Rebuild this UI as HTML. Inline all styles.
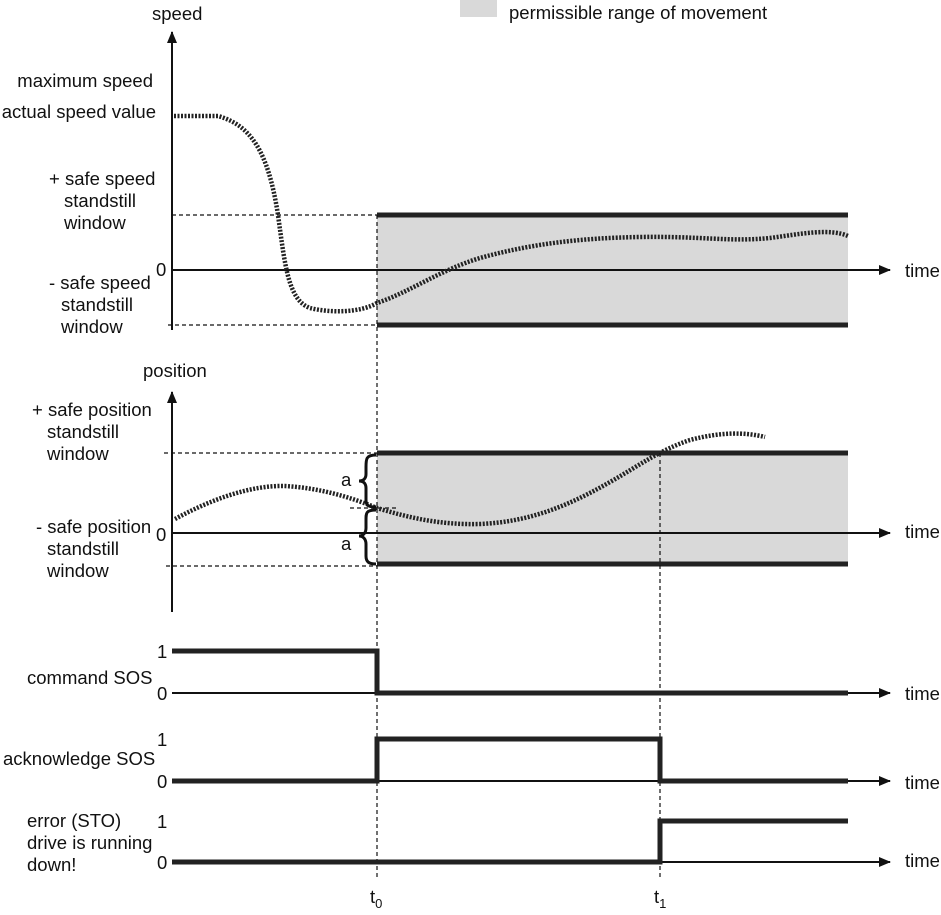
<!DOCTYPE html>
<html><head><meta charset="utf-8"><style>
html,body{margin:0;padding:0;background:#fff;}
svg{display:block;}
text{font-family:"Liberation Sans",Arial,sans-serif;font-size:18.5px;fill:#111;}
</style></head><body>
<svg width="941" height="915" viewBox="0 0 941 915" xmlns="http://www.w3.org/2000/svg">
<defs>
<marker id="ah" markerWidth="12" markerHeight="10" refX="11" refY="5" orient="auto" markerUnits="userSpaceOnUse">
<path d="M0,0 L12,5 L0,10 z" fill="#111"/>
</marker>
</defs>
<!-- legend -->
<rect x="460" y="0" width="37" height="17" fill="#d9d9d9"/>
<text x="509" y="19">permissible range of movement</text>

<!-- SPEED -->
<rect x="377" y="215" width="471" height="110" fill="#d9d9d9"/>
<line x1="377" y1="215" x2="848" y2="215" stroke="#222" stroke-width="5"/>
<line x1="377" y1="325" x2="848" y2="325" stroke="#222" stroke-width="5"/>
<line x1="172" y1="215" x2="377" y2="215" stroke="#111" stroke-width="1.2" stroke-dasharray="4,3"/>
<line x1="168" y1="325" x2="377" y2="325" stroke="#111" stroke-width="1.2" stroke-dasharray="4,3"/>
<line x1="172" y1="330" x2="172" y2="32" stroke="#111" stroke-width="2" marker-end="url(#ah)"/>
<line x1="172" y1="270" x2="890" y2="270" stroke="#111" stroke-width="2" marker-end="url(#ah)"/>
<path d="M174,116 L218,116 C250,125 268,150 278,215 C285,265 288,300 310,308 C330,313 360,313 377,303 C410,292 440,270 480,258 C530,244 580,238 640,237 C700,236 730,242 770,238 C800,234 830,228 848,236" fill="none" stroke="#222" stroke-width="4.5" stroke-dasharray="2,1.5"/>
<text x="152" y="20">speed</text>
<text x="153" y="87" text-anchor="end">maximum speed</text>
<text x="156" y="118" text-anchor="end">actual speed value</text>
<text x="49" y="185">+ safe speed</text>
<text x="64" y="207">standstill</text>
<text x="64" y="229">window</text>
<text x="156" y="276">0</text>
<text x="49" y="289">- safe speed</text>
<text x="61" y="311">standstill</text>
<text x="61" y="333">window</text>
<text x="905" y="277">time</text>

<!-- POSITION -->
<rect x="377" y="453" width="471" height="111" fill="#d9d9d9"/>
<line x1="377" y1="453" x2="848" y2="453" stroke="#222" stroke-width="5"/>
<line x1="377" y1="564" x2="848" y2="564" stroke="#222" stroke-width="5"/>
<line x1="164" y1="453" x2="377" y2="453" stroke="#111" stroke-width="1.2" stroke-dasharray="4,3"/>
<line x1="166" y1="566" x2="377" y2="566" stroke="#111" stroke-width="1.2" stroke-dasharray="4,3"/>
<line x1="350" y1="508" x2="398" y2="508" stroke="#111" stroke-width="1.2" stroke-dasharray="4,3"/>
<line x1="172" y1="612" x2="172" y2="392" stroke="#111" stroke-width="2" marker-end="url(#ah)"/>
<line x1="172" y1="533" x2="890" y2="533" stroke="#111" stroke-width="2" marker-end="url(#ah)"/>
<path d="M175,519 C210,500 250,485 285,486 C320,488 350,497 377,508 C410,518 440,525 480,524 C530,522 570,505 610,482 C640,465 660,450 690,440 C720,432 745,432 765,437" fill="none" stroke="#222" stroke-width="4.5" stroke-dasharray="2,1.5"/>
<path d="M376,455 C366,455 366,459 366,467 L366,474 C366,479 363,481 359,481 C363,481 366,483 366,488 L366,500 C366,506 369,507 376,507" fill="none" stroke="#111" stroke-width="3"/>
<path d="M376,510 C366,510 366,513 366,520 L366,528 C366,533 363,536 359,536 C363,536 366,539 366,544 L366,556 C366,562 369,564 376,564" fill="none" stroke="#111" stroke-width="3"/>
<text x="341" y="486">a</text>
<text x="341" y="550">a</text>
<text x="143" y="377">position</text>
<text x="32" y="416">+ safe position</text>
<text x="47" y="438">standstill</text>
<text x="47" y="460">window</text>
<text x="156" y="541">0</text>
<text x="36" y="533">- safe position</text>
<text x="47" y="555">standstill</text>
<text x="47" y="577">window</text>
<text x="905" y="538">time</text>

<!-- verticals -->
<line x1="377" y1="215" x2="377" y2="880" stroke="#111" stroke-width="1.2" stroke-dasharray="4,3"/>
<line x1="660" y1="453" x2="660" y2="880" stroke="#111" stroke-width="1.2" stroke-dasharray="4,3"/>

<!-- command SOS -->
<line x1="172" y1="693" x2="890" y2="693" stroke="#111" stroke-width="2" marker-end="url(#ah)"/>
<polyline points="172,651 377,651 377,693 848,693" fill="none" stroke="#222" stroke-width="5"/>
<text x="157" y="658">1</text>
<text x="157" y="700">0</text>
<text x="27" y="684">command SOS</text>
<text x="905" y="700">time</text>

<!-- acknowledge SOS -->
<line x1="172" y1="781" x2="890" y2="781" stroke="#111" stroke-width="2" marker-end="url(#ah)"/>
<polyline points="172,781 377,781 377,739 660,739 660,781 848,781" fill="none" stroke="#222" stroke-width="5"/>
<text x="157" y="746">1</text>
<text x="157" y="788">0</text>
<text x="3" y="765">acknowledge SOS</text>
<text x="905" y="789">time</text>

<!-- error -->
<line x1="172" y1="862" x2="890" y2="862" stroke="#111" stroke-width="2" marker-end="url(#ah)"/>
<polyline points="172,862 660,862 660,821 848,821" fill="none" stroke="#222" stroke-width="5"/>
<text x="157" y="828">1</text>
<text x="157" y="869">0</text>
<text x="27" y="827">error (STO)</text>
<text x="27" y="849">drive is running</text>
<text x="27" y="871">down!</text>
<text x="905" y="867">time</text>

<text x="370" y="903">t<tspan font-size="13" dy="5">0</tspan></text>
<text x="654" y="903">t<tspan font-size="13" dy="5">1</tspan></text>
</svg>
</body></html>
